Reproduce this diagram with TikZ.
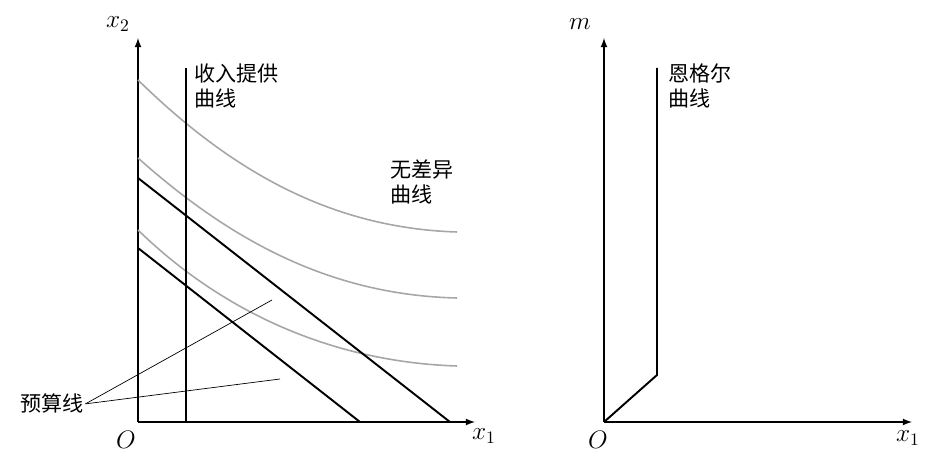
\documentclass[tikz,border=0pt]{standalone}
\usepackage{fontspec}
\newfontfamily\cjk{Noto Sans CJK SC}
\usetikzlibrary{arrows}
\tikzset{
    axis/.style={->, >=latex, thick},
    budget/.style={line width=1.1pt},
    indiff/.style={gray!70, line width=0.9pt},
    lbl/.style={font=\cjk\large, align=left, anchor=north west, inner sep=1pt},
    mlbl/.style={font=\Large}
}
\begin{document}
\begin{tikzpicture}[x=0.02cm, y=-0.02cm]
    \useasboundingbox (0,0) rectangle (940,459);
    % left panel
    \coordinate (O1) at (138,422);
    \coordinate (Y1) at (138,38);
    \coordinate (X1) at (475,422);
    \draw[axis] (O1) -- (Y1);
    \draw[axis] (O1) -- (X1);
    \node[mlbl] (LabO1) at (126,440) {$O$};
    \node[mlbl] (LabX2) at (118,24) {$x_2$};
    \node[mlbl] (LabX1) at (484,436) {$x_1$};

    % indifference curves
    \draw[indiff] (138,80) .. controls (230,170) and (330,228) .. (457,232);
    \draw[indiff] (138,158) .. controls (230,240) and (330,295) .. (457,298);
    \draw[indiff] (138,230) .. controls (220,310) and (330,362) .. (457,366);

    % budget lines
    \draw[budget] (138,178) -- (450,422);
    \draw[budget] (138,248) -- (360,422);

    % income offer curve
    \draw[budget] (186,422) -- (186,68);
    \node[lbl] (Offer) at (192,62) {收入提供\\曲线};
    \node[lbl] (Indiff) at (388,158) {无差异\\曲线};
    \node[lbl] (Budget) at (18,392) {预算线};
    \coordinate (P1) at (272,300);
    \coordinate (P2) at (280,379);
    \draw[thin] (Budget.east) -- (P1);
    \draw[thin] (Budget.east) -- (P2);

    % right panel
    \coordinate (O2) at (604,422);
    \coordinate (Y2) at (604,38);
    \coordinate (X2) at (912,422);
    \draw[axis] (O2) -- (Y2);
    \draw[axis] (O2) -- (X2);
    \node[mlbl] (LabO2) at (598,440) {$O$};
    \node[mlbl] (LabM) at (580,24) {$m$};
    \node[mlbl] (LabX1b) at (908,438) {$x_1$};
    \draw[budget] (O2) -- (657,375) -- (657,68);
    \node[lbl] (Engel) at (666,62) {恩格尔\\曲线};
\end{tikzpicture}
\end{document}
